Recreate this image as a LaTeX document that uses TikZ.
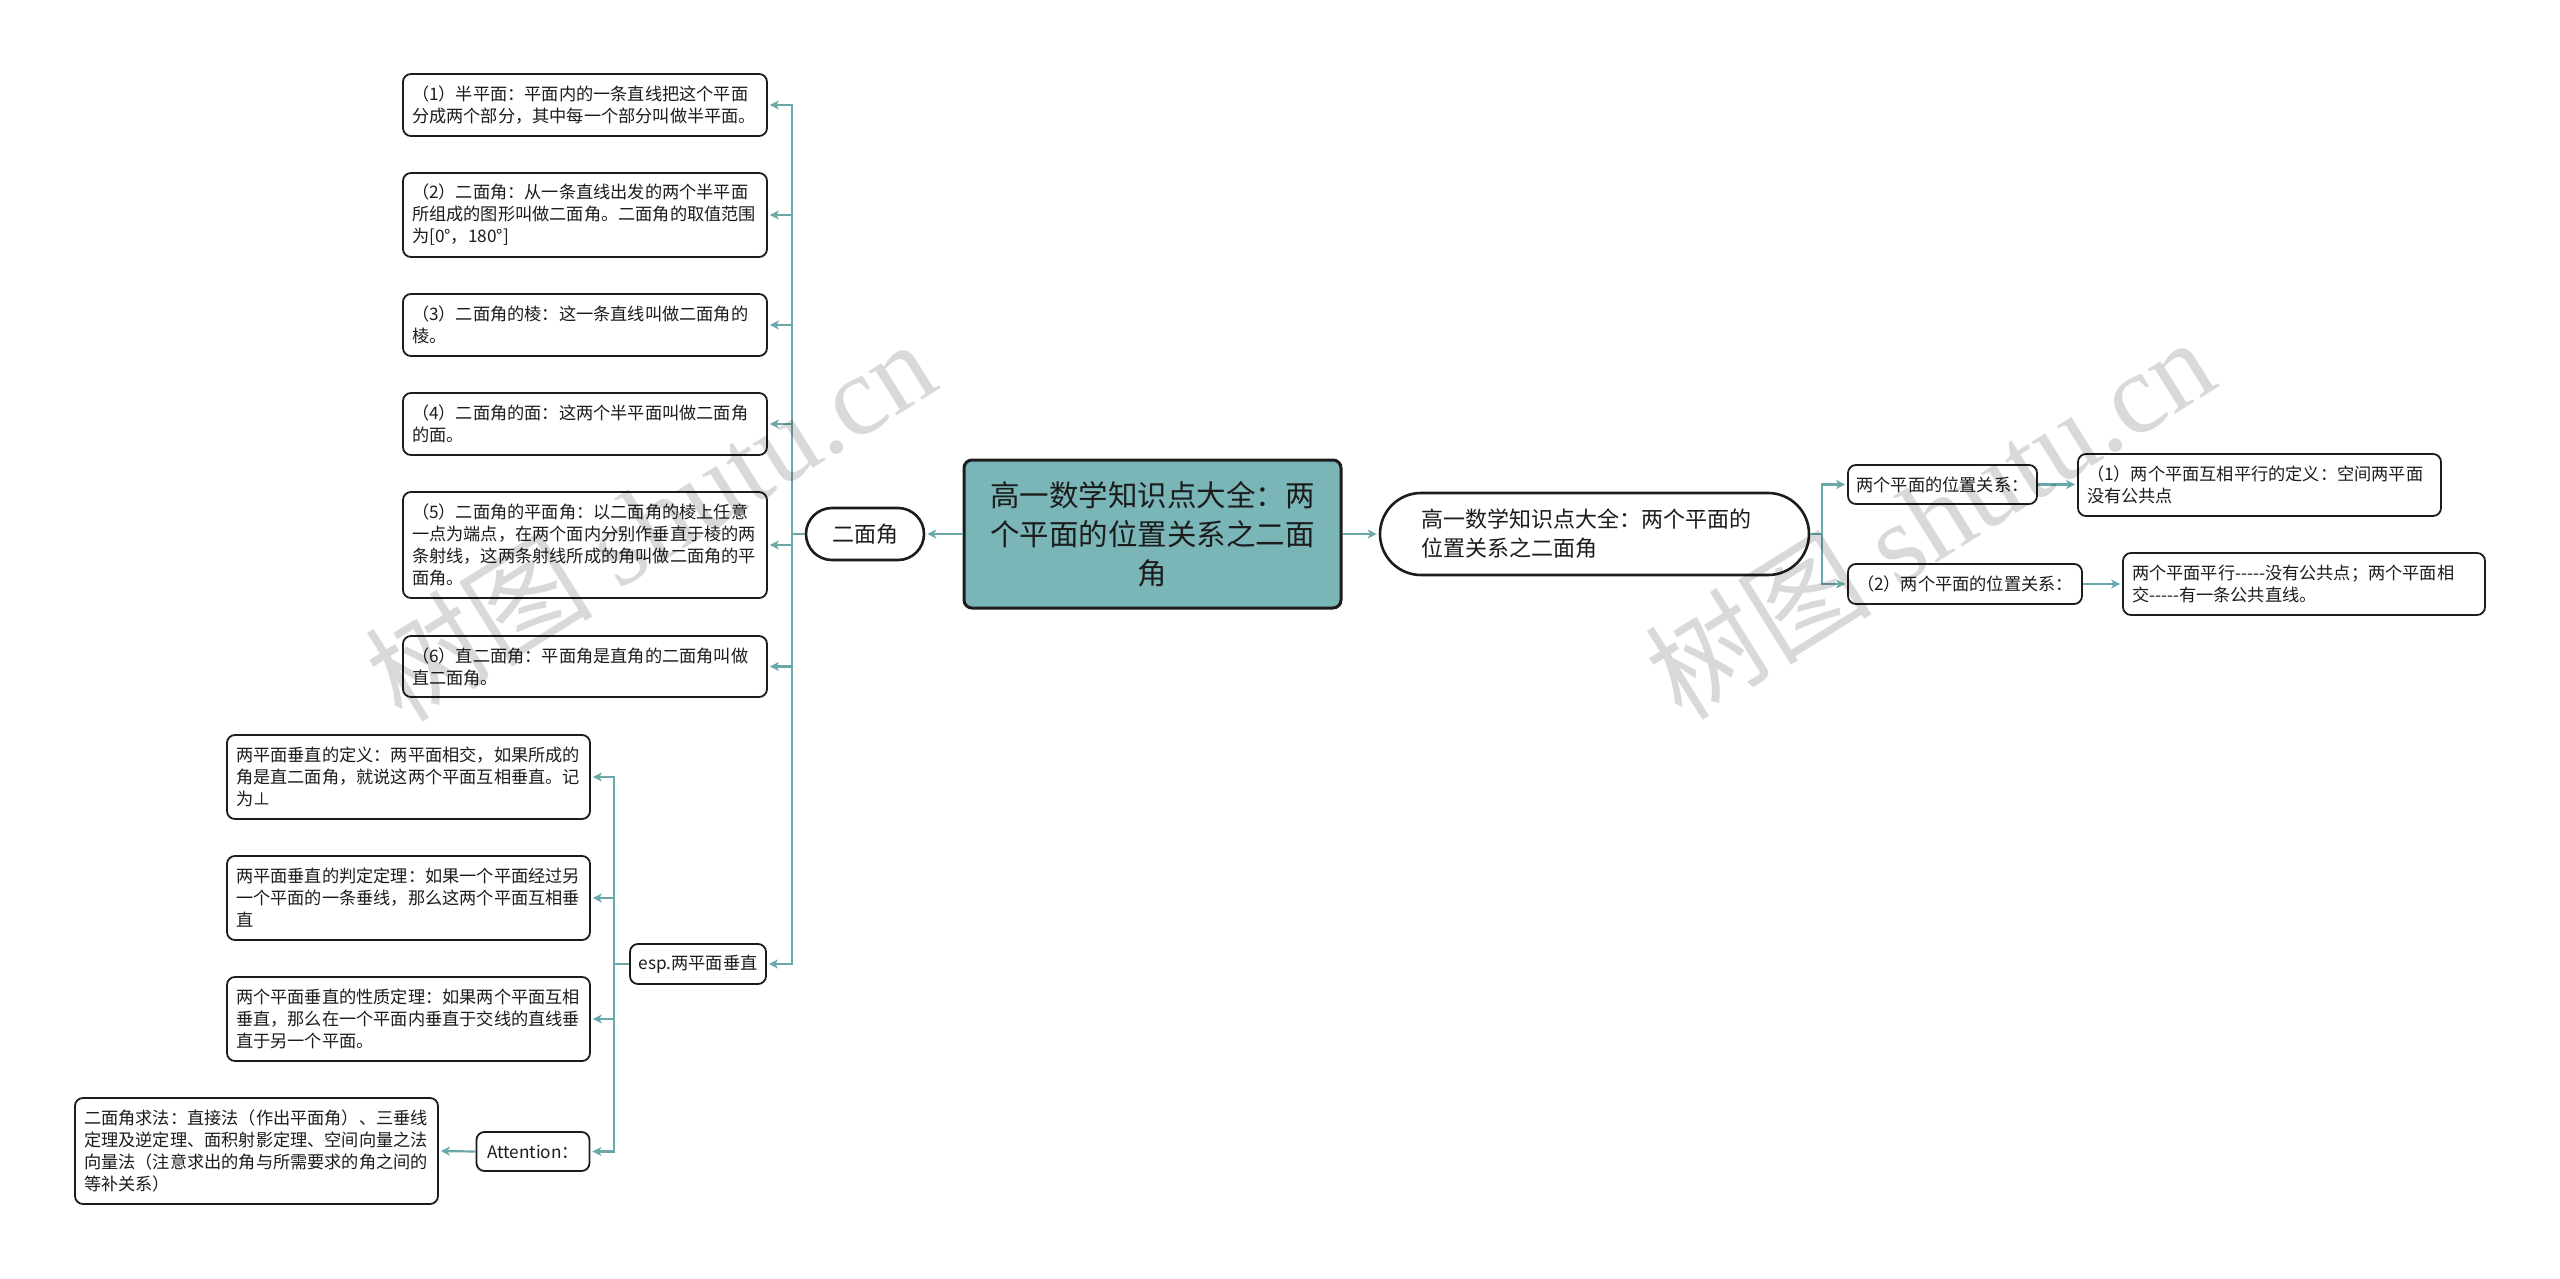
\documentclass[tikz,border=0pt]{standalone}
\usepackage{fontspec}
\setmainfont{Noto Sans CJK SC}
\newfontfamily\wmserif{Liberation Serif}
\usetikzlibrary{arrows.meta}
\definecolor{lnk}{RGB}{106,168,170}
\definecolor{ctrfill}{RGB}{122,181,183}
\definecolor{ink}{RGB}{28,28,28}
\begin{document}
\begin{tikzpicture}[x=1pt,y=-1pt,
  leaf/.style={draw=ink, line width=1.8pt, rounded corners=8pt, fill=white, text=ink,
    inner xsep=9pt, inner ysep=0pt, align=left, text width=#1-18pt, minimum width=#1,
    font=\fontsize{17.2}{22}\selectfont},
  single/.style={draw=ink, line width=1.8pt, rounded corners=8pt, fill=white, text=ink,
    inner xsep=4pt, inner ysep=0pt, align=center, minimum width=#1,
    font=\fontsize{17.2}{22}\selectfont},
  conn/.style={draw=lnk, line width=2.2pt},
  arr/.style={conn, -{Stealth[length=9pt,width=9pt,inset=2.5pt]}, shorten >=2pt},
  wm/.style={text=black, text opacity=0.15, rotate=32, inner sep=0pt,
    font=\fontsize{114}{114}\selectfont}
]
\fill[white] (0,0) rectangle (2560,1279);
\useasboundingbox (0,0) rectangle (2560,1279);

% central node
\node[draw=ink, line width=3pt, rounded corners=8pt, fill=ctrfill, text=ink,
  minimum width=377pt, minimum height=148pt, inner sep=0pt, align=center,
  font=\fontsize{29.5}{39}\selectfont] (ctr) at (1152.5,534)
  {高一数学知识点大全：两\\个平面的位置关系之二面\\角};

% left branch
\node[draw=ink, line width=2.6pt, rounded corners=26pt, fill=white, text=ink,
  minimum width=118pt, minimum height=52pt, inner sep=0pt,
  font=\fontsize{22}{28}\selectfont] (erm) at (865,534) {二面角};

\node[leaf=364pt, minimum height=62pt] (n1) at (585,105)
  {（1）半平面：平面内的一条直线把这个平面\\分成两个部分，其中每一个部分叫做半平面。};
\node[leaf=364pt, minimum height=84pt] (n2) at (585,215)
  {（2）二面角：从一条直线出发的两个半平面\\所组成的图形叫做二面角。二面角的取值范围\\为[0°，180°]};
\node[leaf=364pt, minimum height=62pt] (n3) at (585,325)
  {（3）二面角的棱：这一条直线叫做二面角的\\棱。};
\node[leaf=364pt, minimum height=62pt] (n4) at (585,424)
  {（4）二面角的面：这两个半平面叫做二面角\\的面。};
\node[leaf=364pt, minimum height=106pt] (n5) at (585,545)
  {（5）二面角的平面角：以二面角的棱上任意\\一点为端点，在两个面内分别作垂直于棱的两\\条射线，这两条射线所成的角叫做二面角的平\\面角。};
\node[leaf=364pt, minimum height=61pt] (n6) at (585,666.5)
  {（6）直二面角：平面角是直角的二面角叫做\\直二面角。};
\node[single=136pt, minimum height=40pt] (esp) at (698,964) {esp.两平面垂直};

\node[leaf=363pt, minimum height=84pt] (pa) at (408.5,777)
  {两平面垂直的定义：两平面相交，如果所成的\\角是直二面角，就说这两个平面互相垂直。记\\为⊥};
\node[leaf=363pt, minimum height=84pt] (pb) at (408.5,898)
  {两平面垂直的判定定理：如果一个平面经过另\\一个平面的一条垂线，那么这两个平面互相垂\\直};
\node[leaf=363pt, minimum height=84pt] (pc) at (408.5,1019)
  {两个平面垂直的性质定理：如果两个平面互相\\垂直，那么在一个平面内垂直于交线的直线垂\\直于另一个平面。};
\node[single=113pt, minimum height=39pt] (att) at (533,1151.5) {Attention：};
\node[leaf=363pt, minimum height=106pt] (pd) at (256.5,1151)
  {二面角求法：直接法（作出平面角）、三垂线\\定理及逆定理、面积射影定理、空间向量之法\\向量法（注意求出的角与所需要求的角之间的\\等补关系）};

% right branch
\node[draw=ink, line width=2.6pt, rounded corners=41pt, fill=white, text=ink,
  minimum width=429pt, minimum height=82pt, inner xsep=0pt, inner ysep=0pt,
  text width=346pt, align=left, font=\fontsize{22}{29}\selectfont] (mr) at (1594.5,534)
  {高一数学知识点大全：两个平面的\\位置关系之二面角};
\node[single=189pt, minimum height=39pt] (r1) at (1942.5,484.5) {两个平面的位置关系：};
\node[single=234pt, minimum height=40pt] (r2) at (1965,584) {（2）两个平面的位置关系：};
\node[leaf=363pt, minimum height=62pt] (r1a) at (2259.5,485)
  {（1）两个平面互相平行的定义：空间两平面\\没有公共点};
\node[leaf=362pt, minimum height=62pt] (r2a) at (2304,584)
  {两个平面平行-{}-{}-{}-{}-没有公共点；两个平面相\\交-{}-{}-{}-{}-有一条公共直线。};

% connectors
\draw[arr] (ctr.west) -- (erm.east);
\coordinate (fl) at (792,534);
\draw[conn] (erm.west) -- (fl);
\foreach \t in {n1,n2,n3,n4,n5,n6,esp} \draw[arr] (fl) |- (\t.east);
\coordinate (fe) at (614,964);
\draw[conn] (esp.west) -- (fe);
\foreach \t in {pa,pb,pc,att} \draw[arr] (fe) |- (\t.east);
\draw[arr] (att.west) -- (pd.east);

\draw[arr] (ctr.east) -- (mr.west);
\coordinate (fr) at (1822,534);
\draw[conn] (mr.east) -- (fr);
\draw[arr] (fr) |- (r1.west);
\draw[arr] (fr) |- (r2.west);
\draw[arr] (r1.east) -- (r1.east -| r1a.west);
\draw[arr] (r2.east) -- (r2.east -| r2a.west);

% watermarks
\node[wm] (wm1) at (650,519) {树图 {\wmserif shutu.cn}};
\node[wm] (wm2) at (1929,517) {树图 {\wmserif shutu.cn}};
\end{tikzpicture}
\end{document}
